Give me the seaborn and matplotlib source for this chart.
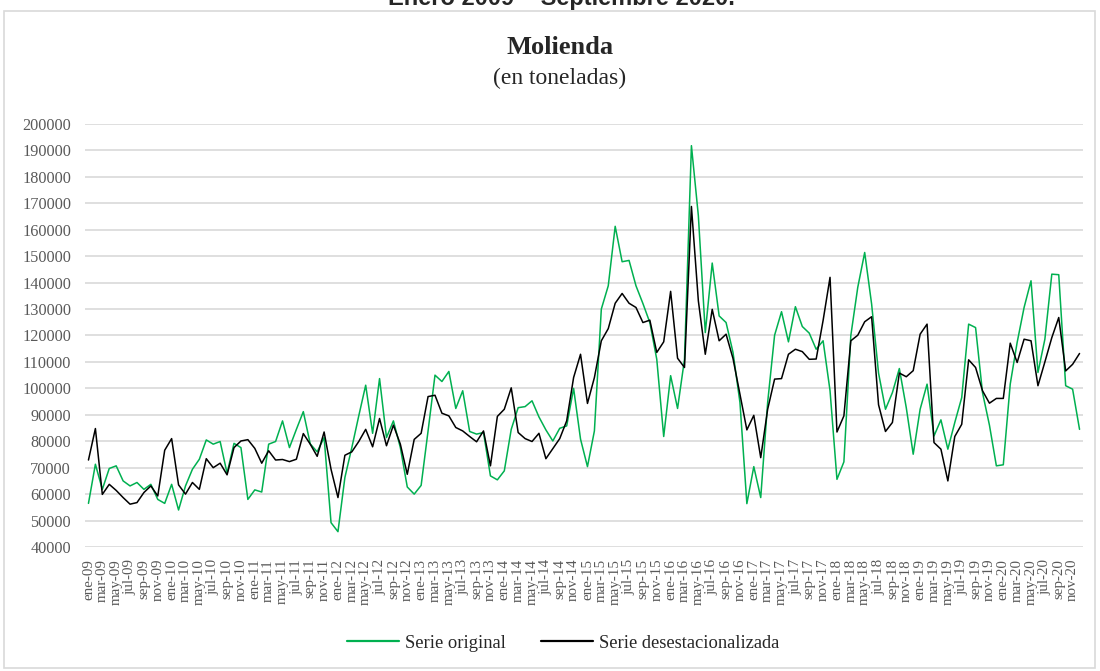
import numpy as np
import pandas as pd
import matplotlib
matplotlib.use("Agg")
import matplotlib.pyplot as plt
from matplotlib.patches import Rectangle
import seaborn as sns

# monthly data, ene-09 .. dic-20
meses = ['ene', 'feb', 'mar', 'abr', 'may', 'jun', 'jul', 'ago', 'sep', 'oct', 'nov', 'dic']
anios = ['09', '10', '11', '12', '13', '14', '15', '16', '17', '18', '19', '20']
periodos = [f'{m}-{a}' for a in anios for m in meses]

serie_original = [
    56500, 71300, 61800, 69700, 70700, 65000, 63100, 64400, 61800, 63700, 58000, 56500,
    63700, 54000, 63100, 69400, 73200, 80500, 78900, 79900, 67900, 79200, 77600, 58000,
    61600, 60800, 78900, 79900, 87700, 77600, 84500, 91200, 79000, 76000, 81400, 49200,
    45800, 66300, 77600, 89600, 101200, 83000, 103700, 81400, 87700, 77600, 62700, 60000,
    63300, 83900, 105000, 102600, 106400, 92400, 99100, 83700, 82700, 83300, 66900, 65400,
    68800, 84500, 92700, 93100, 95300, 89200, 84300, 80100, 84900, 85800, 100000, 80800,
    70400, 83900, 130000, 138800, 161300, 147900, 148400, 138800, 132100, 124900, 111000, 81800,
    104800, 92400, 111000, 191800, 165300, 121100, 147400, 127400, 124900, 113600, 94700, 56400,
    70400, 58700, 94700, 120100, 129000, 117600, 130900, 123400, 120900, 114800, 118000, 99100,
    65600, 72200, 120000, 138200, 151400, 131900, 105800, 92100, 98400, 107500, 92700, 75100,
    92100, 101600, 82000, 88100, 77000, 87100, 96500, 124300, 123000, 98400, 86100, 70700,
    71100, 101600, 117400, 130600, 140700, 106000, 118600, 143200, 143000, 101000, 99700, 84500,
]

serie_desest = [
    72900, 84800, 59900, 63700, 61400, 58700, 56200, 56800, 60600, 63100, 59300, 76600,
    81000, 63500, 60000, 64400, 61800, 73400, 70000, 71700, 67300, 77600, 80100, 80600,
    77300, 71700, 76400, 72900, 73100, 72300, 73200, 82900, 78900, 74300, 83500, 69400,
    58700, 74700, 76000, 79900, 84500, 77900, 88600, 78300, 86100, 78900, 67500, 80700,
    83000, 96900, 97400, 90600, 89600, 85200, 83900, 81800, 79800, 83900, 70700, 89400,
    92100, 100200, 83300, 81000, 79900, 83000, 73400, 77200, 81000, 87700, 104100, 112900,
    94300, 104100, 118000, 122600, 132200, 135900, 132200, 130600, 124900, 125800, 113600, 117600,
    136700, 111400, 107900, 168800, 133100, 112900, 129900, 118000, 120500, 111300, 97800, 84300,
    89800, 73800, 92100, 103500, 103700, 112900, 114800, 113900, 111000, 111100, 125700, 142000,
    83500, 89600, 118000, 120100, 125200, 127100, 93800, 83700, 87100, 105800, 104400, 106700,
    120500, 124300, 79500, 77000, 65000, 81800, 86400, 110800, 107900, 99100, 94400, 96200,
    96200, 117100, 109800, 118600, 118000, 101000, 110000, 119200, 126800, 106600, 109100, 113200,
]

y_ticks = list(range(40000, 200001, 10000))

df = pd.DataFrame({
    'idx': list(range(len(periodos))) * 2,
    'valor': serie_original + serie_desest,
    'serie': ['Serie original'] * len(periodos) + ['Serie desestacionalizada'] * len(periodos),
})

sns.set_style('white')
plt.rcParams['font.family'] = ['Liberation Serif', 'DejaVu Serif']

fig = plt.figure(figsize=(11, 6.71), dpi=100)
ax = fig.add_axes([85 / 1100, 1 - 547 / 671, (1083 - 85) / 1100, (547 - 124) / 671])

sns.lineplot(data=df, x='idx', y='valor', hue='serie',
             hue_order=['Serie original', 'Serie desestacionalizada'],
             palette={'Serie original': '#00B050', 'Serie desestacionalizada': 'black'},
             linewidth=1.1, ax=ax, legend=True)

ax.set_xlim(-0.5, len(periodos) - 0.5)
ax.set_ylim(40000, 200000)
ax.set_yticks(y_ticks)
ax.set_yticklabels([str(v) for v in y_ticks], fontsize=11.7, color='#595959')
ax.set_xticks(range(0, len(periodos), 2))
ax.set_xticklabels(periodos[::2], rotation=90, fontsize=10.8, color='#595959')
ax.tick_params(axis='y', length=0, pad=10)
ax.tick_params(axis='x', length=0, pad=8.5)
ax.grid(axis='y', color='#D9D9D9', linewidth=1.2)
ax.set_axisbelow(True)
for s in ax.spines.values():
    s.set_visible(False)
ax.set_xlabel('')
ax.set_ylabel('')

leg = ax.legend(loc='center', bbox_to_anchor=(0.512, 1 - 643 / 671), bbox_transform=fig.transFigure,
                ncol=2, frameon=False, fontsize=13.3, handlelength=2.8, columnspacing=1.9,
                handletextpad=0.35)
for line in leg.get_lines():
    line.set_linewidth(1.6)

fig.text(0.509, 1 - 47 / 671, 'Molienda', ha='center', va='center', fontsize=19, fontweight='bold')
fig.text(0.509, 1 - 78 / 671, '(en toneladas)', ha='center', va='center', fontsize=17)
fig.text(0.51, 1 - 4.5 / 671, 'Enero 2009 \u2013 Septiembre 2020.', ha='center', va='baseline',
         fontsize=17, fontweight='bold', family=['Liberation Sans', 'DejaVu Sans'])

fig.patches.append(Rectangle((4 / 1100, 1 - 668 / 671), 1091 / 1100, 657 / 671,
                             transform=fig.transFigure, fill=False, edgecolor='#D9D9D9',
                             linewidth=1.2))

fig.savefig('out.png', dpi=100)
